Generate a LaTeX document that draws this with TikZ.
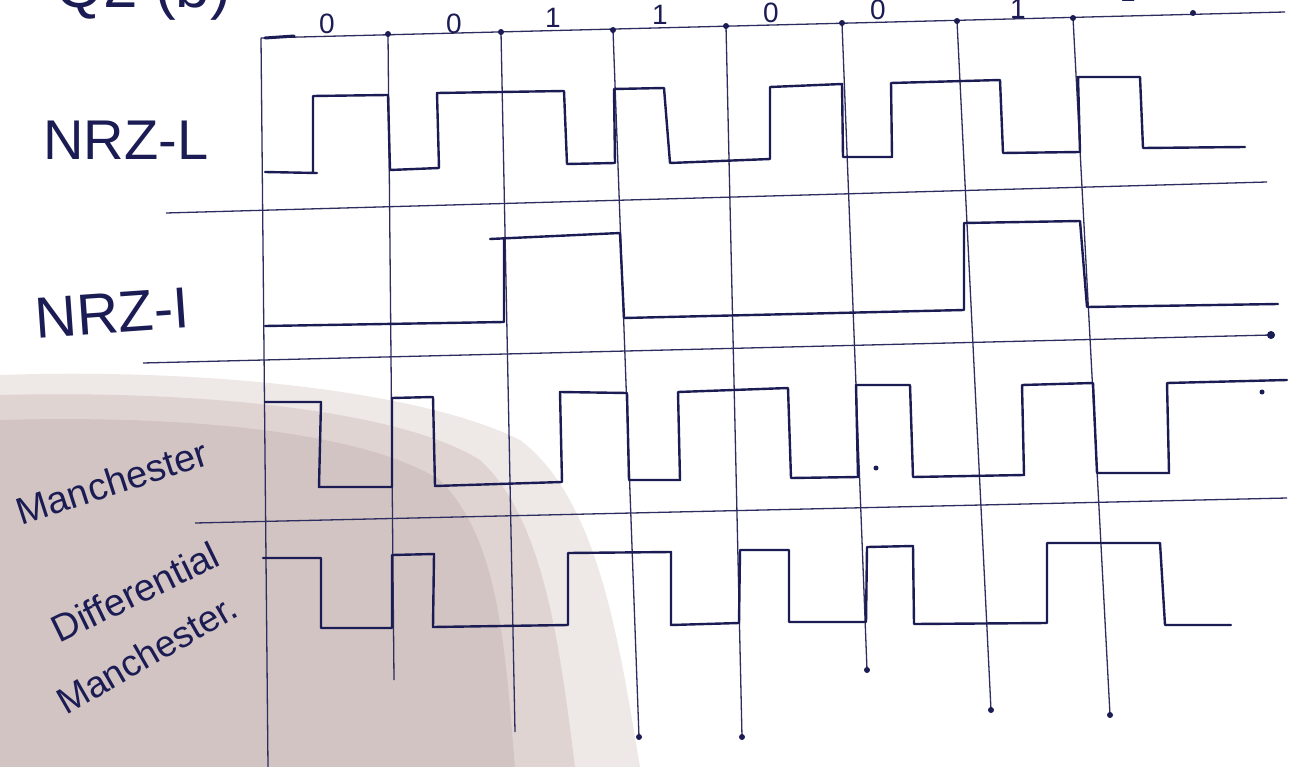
\documentclass[tikz,border=0pt]{standalone}
\usepackage{fontspec}
\setmainfont{Liberation Sans}
\definecolor{ink}{RGB}{28,28,85}
\definecolor{gridink}{RGB}{45,45,95}
\definecolor{shadeA}{RGB}{238,232,231}
\definecolor{shadeB}{RGB}{224,212,210}
\definecolor{shadeC}{RGB}{210,196,194}
\begin{document}
\begin{tikzpicture}[x=1pt,y=-1pt,
  gridline/.style={draw=gridink, line width=1.3pt},
  wave/.style={draw=ink, line width=2.4pt, line join=round, line cap=round},
  lbl/.style={text=ink, inner sep=0pt},
  bitlbl/.style={text=ink, inner sep=0pt, font=\fontsize{28}{32}\selectfont},
  dotmark/.style={fill=ink}]
\useasboundingbox (0,0) rectangle (1297,767);
\clip (0,0) rectangle (1297,767);
\fill[white] (0,0) rectangle (1297,767);
% shadow of the photo
\fill[shadeA] (0,375) .. controls (200,368) and (420,390) .. (520,440) .. controls (600,500) and (620,650) .. (640,767) -- (0,767) -- cycle;
\fill[shadeB] (0,395) .. controls (200,390) and (400,410) .. (480,460) .. controls (545,520) and (560,650) .. (575,767) -- (0,767) -- cycle;
\fill[shadeC] (0,420) .. controls (180,415) and (360,430) .. (440,480) .. controls (500,540) and (505,650) .. (515,767) -- (0,767) -- cycle;

% fragment of the title at the top edge
\node[lbl, anchor=base, font=\fontsize{62}{66}\selectfont] (title) at (143,8) {Q2 (b)};

% time grid
\coordinate (t0) at (261,38);  \coordinate (b0) at (268,767);
\coordinate (t1) at (388,34);  \coordinate (b1) at (394,680);
\coordinate (t2) at (501,32);  \coordinate (b2) at (515,732);
\coordinate (t3) at (613,30);  \coordinate (b3) at (639,737);
\coordinate (t4) at (726,26);  \coordinate (b4) at (742,737);
\coordinate (t5) at (842,23);  \coordinate (b5) at (867,670);
\coordinate (t6) at (957,21);  \coordinate (b6) at (991,710);
\coordinate (t7) at (1073,18); \coordinate (b7) at (1110,715);
\coordinate (topend) at (1285,12);
\foreach \i in {0,...,7} { \draw[gridline] (t\i) -- (b\i); }
\draw[gridline] (t0) -- (topend);
\draw[ink, line width=3pt, line cap=round] (265,38) -- (294,36);
\foreach \i in {1,...,7} { \fill[dotmark] (t\i) circle (3pt); }
\foreach \i in {3,...,7} { \fill[dotmark] (b\i) circle (3pt); }
\fill[dotmark] (1193,13) circle (3pt);

% separators
\coordinate (s1a) at (166,213); \coordinate (s1b) at (1267,182);
\coordinate (s2a) at (143,363); \coordinate (s2b) at (1271,335);
\coordinate (s3a) at (195,523); \coordinate (s3b) at (1287,498);
\draw[gridline] (s1a) -- (s1b);
\draw[gridline] (s2a) -- (s2b);
\draw[gridline] (s3a) -- (s3b);
\fill[dotmark] (s2b) circle (4pt);

% bit labels
\node[bitlbl] (bit1) at (327,24) {0};
\node[bitlbl] (bit2) at (454,24) {0};
\node[bitlbl] (bit3) at (553,18) {1};
\node[bitlbl] (bit4) at (660,15) {1};
\node[bitlbl] (bit5) at (771,13) {0};
\node[bitlbl] (bit6) at (878,10) {0};
\node[bitlbl] (bit7) at (1018,9) {1};
\node[bitlbl] (bit8) at (1128,-8) {1};

% NRZ-L
\draw[wave] (265,172) -- (317,173) -- (313,173) -- (313,96) -- (388,95) -- (390,170) -- (439,168) -- (437,93) -- (564,91) -- (567,164) -- (615,163) -- (614,89) -- (664,88) -- (670,163) -- (770,159) -- (770,87) -- (842,84) -- (843,157) -- (892,157) -- (891,83) -- (1000,80) -- (1003,153) -- (1080,152) -- (1078,77) -- (1140,77) -- (1143,148) -- (1245,147);

% NRZ-I
\draw[wave] (265,326) -- (504,322) -- (504,239);
\draw[wave] (490,239) -- (620,233) -- (624,318) -- (964,310) -- (964,223) -- (1080,221) -- (1087,307) -- (1278,304);

% Manchester
\draw[wave] (265,402) -- (321,402) -- (319,487) -- (392,487) -- (392,398) -- (433,397) -- (435,486) -- (562,482) -- (560,392) -- (627,393) -- (629,480) -- (680,480) -- (678,392) -- (788,388) -- (791,478) -- (858,477) -- (856,385) -- (910,385) -- (913,477) -- (1024,475) -- (1022,385) -- (1093,383) -- (1097,473) -- (1169,473) -- (1167,383) -- (1287,380);
\fill[dotmark] (1262,392) circle (2.5pt);
\fill[dotmark] (876,468) circle (2.5pt);

% Differential Manchester
\draw[wave] (263,558) -- (321,558) -- (321,628) -- (392,628) -- (392,555) -- (434,554) -- (433,627) -- (568,625) -- (568,553) -- (671,552) -- (671,625) -- (739,623) -- (740,550) -- (789,550) -- (789,622) -- (866,622) -- (867,547) -- (913,546) -- (914,624) -- (1047,623) -- (1047,543) -- (1160,543) -- (1165,625) -- (1231,625);

% row labels
\node[lbl, font=\fontsize{56}{60}\selectfont] (lnrzl) at (126,140) {NRZ-L};
\node[lbl, font=\fontsize{58}{60}\selectfont, rotate=4] (lnrzi) at (112,313) {NRZ-I};
\node[lbl, font=\fontsize{38}{42}\selectfont, rotate=18] (lman) at (112,482) {Manchester};
\node[lbl, font=\fontsize{38}{42}\selectfont, rotate=26] (ldiff) at (135,592) {Differential};
\node[lbl, font=\fontsize{37}{42}\selectfont, rotate=30] (lman2) at (147,654) {Manchester.};
\end{tikzpicture}
\end{document}
